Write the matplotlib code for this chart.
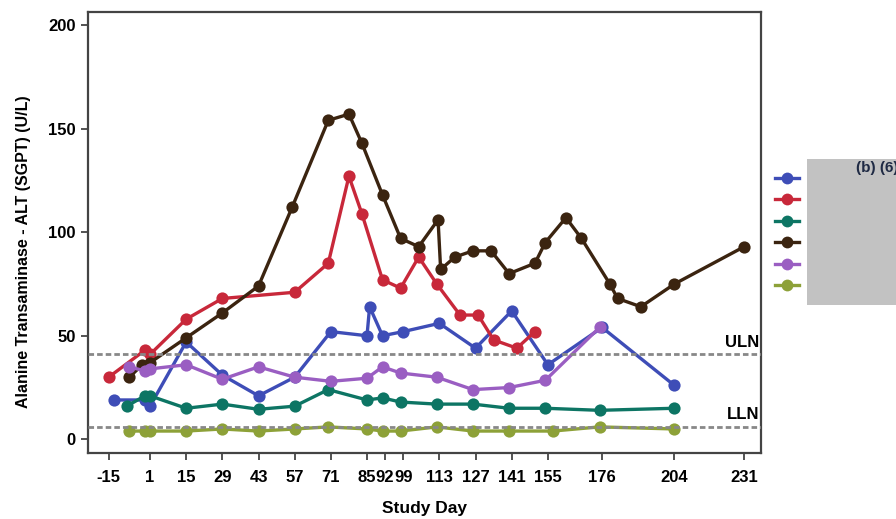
import matplotlib
matplotlib.use("Agg")
import matplotlib.pyplot as plt
from matplotlib.lines import Line2D
from matplotlib.patches import Rectangle

plt.rcParams["font.family"] = ["Liberation Sans", "DejaVu Sans"]
plt.rcParams["font.weight"] = "bold"

# ── Data: ALT by study day, one series per subject ───────────────────────────
DAY_TICKS = [-15, 1, 15, 29, 43, 57, 71, 85, 92, 99, 113, 127, 141, 155, 176, 204, 231]
ULN = 41
LLN = 6

blue_days = [-13, -1, 1, 15, 29, 43, 57, 71, 85, 86, 91, 99, 113, 127, 141, 155, 176, 204]
blue_alt = [19, 19, 16, 47, 31, 21, 30, 52, 50, 64, 50, 52, 56, 44, 62, 36, 54, 26]

red_days = [-15, -1, 1, 15, 29, 57, 70, 78, 83, 91, 98, 105, 112, 121, 128, 134, 143, 150]
red_alt = [30, 43, 41, 58, 68, 71, 85, 127, 109, 77, 73, 88, 75, 60, 60, 48, 44, 52]

teal_days = [-8, -1, 1, 15, 29, 43, 57, 70, 85, 91, 98, 112, 126, 140, 154, 175, 204]
teal_alt = [16, 21, 21, 15, 17, 14.5, 16, 24, 19, 20, 18, 17, 17, 15, 15, 14, 15]

brown_days = [-7, -2, 1, 15, 29, 43, 56, 70, 78, 83, 91, 98, 105, 112.5, 113.5,
              119, 126, 133, 140, 150, 154, 162, 168, 179, 182, 191, 204, 231]
brown_alt = [30, 36, 37, 49, 61, 74, 112, 154, 157, 143, 118, 97, 93, 106, 82,
             88, 91, 91, 80, 85, 95, 107, 97, 75, 68, 64, 75, 93]

purple_days = [-7, -1, 1, 15, 29, 43, 57, 71, 85, 91, 98, 112, 126, 140, 154, 175]
purple_alt = [35, 33, 34, 36, 29, 35, 30, 28, 29.5, 35, 32, 30, 24, 25, 28.5, 54]

green_days = [-7, -1, 1, 15, 29, 43, 57, 70, 85, 91, 98, 112, 126, 140, 157, 175, 204]
green_alt = [4, 4, 4, 4, 5, 4, 5, 6, 5, 4, 4, 6, 4, 4, 4, 6, 5]

SERIES = [
    (blue_days, blue_alt, "#3E4DB7"),
    (red_days, red_alt, "#C8283A"),
    (teal_days, teal_alt, "#0D7564"),
    (brown_days, brown_alt, "#3B2410"),
    (purple_days, purple_alt, "#9A5EC2"),
    (green_days, green_alt, "#8DA138"),
]

# ── Figure ───────────────────────────────────────────────────────────────────
W, H = 896, 519
fig = plt.figure(figsize=(W / 100, H / 100), dpi=100)
ax = fig.add_axes([88 / W, 1 - 453 / H, (761 - 88) / W, (453 - 12) / H])

for days, alt, color in SERIES:
    ax.plot(days, alt, color=color, lw=2.4, marker="o", ms=8.8,
            markeredgewidth=0, zorder=2)

# reference limits
for level, name in [(ULN, "ULN"), (LLN, "LLN")]:
    ax.axhline(level, color="#888888", lw=2, ls=(0, (2, 1.1)), zorder=3)
    ax.text(236.8, level + 2.3, name, ha="right", va="bottom",
            fontsize=12, fontweight="bold")

ax.set_xlim(-23, 237.5)
ax.set_ylim(-6.6, 206.3)
ax.set_xticks(DAY_TICKS)
ax.set_xticklabels([str(d) for d in DAY_TICKS])
ax.set_yticks([0, 50, 100, 150, 200])
ax.tick_params(axis="both", direction="out", length=5, width=1.3,
               labelsize=12, color="#444444")
ax.tick_params(axis="x", pad=7)
ax.tick_params(axis="y", pad=4)
for lbl in ax.get_xticklabels() + ax.get_yticklabels():
    lbl.set_fontweight("bold")
for sp in ax.spines.values():
    sp.set_linewidth(1.6)
    sp.set_color("#444444")

ax.set_xlabel("Study Day", fontsize=12.5, fontweight="bold", labelpad=12)
ax.set_ylabel("Alanine Transaminase - ALT (SGPT) (U/L)", fontsize=11.5,
              fontweight="bold")
ax.yaxis.set_label_coords(-0.085, 0.456)

# legend symbols (labels hidden under a redaction box)
for i, (_, _, color) in enumerate(SERIES):
    y = 1 - (177.5 + i * 21.5) / H
    fig.add_artist(Line2D([775 / W, 799 / W], [y, y], color=color, lw=2.4,
                          transform=fig.transFigure))
    fig.add_artist(Line2D([787 / W], [y], color=color, marker="o", ms=8.5,
                          markeredgewidth=0, transform=fig.transFigure))

fig.add_artist(Rectangle((807 / W, 1 - 305 / H), (W - 807) / W, (305 - 159) / H,
                         transform=fig.transFigure, facecolor="#C2C2C2",
                         edgecolor="none"))
fig.text(856 / W, 1 - 168 / H, "(b) (6)", fontsize=11, fontweight="bold",
         color="#1F2A44", ha="left", va="center")

fig.savefig("out.png", dpi=100)
